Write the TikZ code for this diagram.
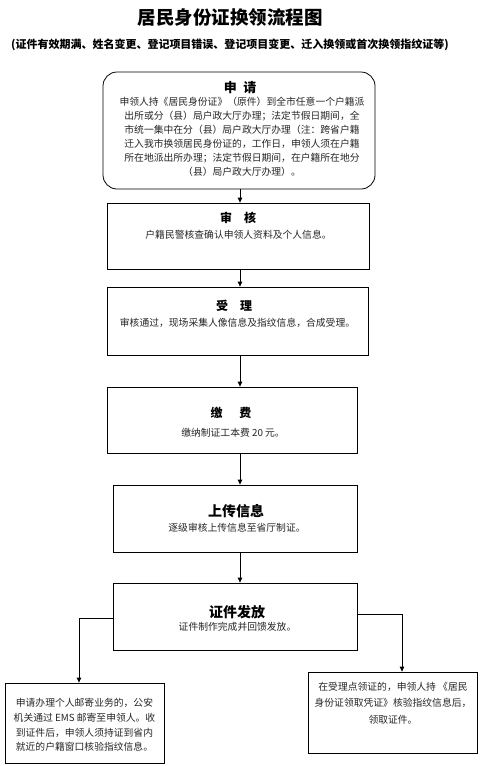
\documentclass[tikz,border=0pt]{standalone}
\usepackage{fontspec}
\setmainfont{Noto Sans CJK SC}
\usetikzlibrary{arrows.meta}
\begin{document}
\begin{tikzpicture}[x=1pt,y=-1pt,
  box/.style={draw,line width=0.8pt,inner sep=0pt},
  arr/.style={draw,line width=0.8pt,-{Triangle[length=5pt,width=4.5pt]}},
  ttl/.style={font=\bfseries\fontsize{13}{15}\selectfont,inner sep=0pt},
  body/.style={font=\fontsize{9.8}{14}\selectfont,inner sep=0pt,align=center,text=black!85}]
\useasboundingbox[fill=white] (0,0) rectangle (486,766);
% titles
\node[inner sep=0pt,font=\bfseries\fontsize{18.5}{20}\selectfont] (title) at (230,18) {居民身份证换领流程图};
\node[inner sep=0pt,font=\bfseries\fontsize{11}{13}\selectfont] (sub) at (230,45) {(证件有效期满、姓名变更、登记项目错误、登记项目变更、迁入换领或首次换领指纹证等)};
% boxes
\node[box,rounded corners=14pt,minimum width=272pt,minimum height=117pt] (b1) at (239,130.5) {};
\node[box,minimum width=262pt,minimum height=66pt] (b2) at (238,236) {};
\node[box,minimum width=261pt,minimum height=68pt] (b3) at (237.5,321) {};
\node[box,minimum width=250pt,minimum height=66pt] (b4) at (232,420) {};
\node[box,minimum width=244pt,minimum height=67pt] (b5) at (235,518.5) {};
\node[box,minimum width=244pt,minimum height=67pt] (b6) at (235,616.5) {};
\node[box,minimum width=159pt,minimum height=80pt] (lb) at (84.5,723) {};
\node[box,minimum width=169pt,minimum height=81pt] (rb) at (392.5,712.5) {};
% box texts
\node[ttl] (t1) at (240,88) {申\hspace{0.5em}请};
\node[body] (x1) at (242,137) {申领人持《居民身份证》（原件）到全市任意一个户籍派\\出所或分（县）局户政大厅办理；法定节假日期间，全\\市统一集中在分（县）局户政大厅办理（注：跨省户籍\\迁入我市换领居民身份证的，工作日，申领人须在户籍\\所在地派出所办理；法定节假日期间，在户籍所在地分\\（县）局户政大厅办理）。};
\node[ttl,font=\bfseries\fontsize{12}{14}\selectfont] (t2) at (238,218) {审\hspace{1em}核};
\node[body] (x2) at (238.5,235) {户籍民警核查确认申领人资料及个人信息。};
\node[ttl,font=\bfseries\fontsize{12}{14}\selectfont] (t3) at (234,306) {受\hspace{1em}理};
\node[body] (x3) at (237.5,323) {审核通过，现场采集人像信息及指纹信息，合成受理。};
\node[ttl,font=\bfseries\fontsize{12}{14}\selectfont] (t4) at (231,413) {缴\hspace{1.4em}费};
\node[body] (x4) at (233,433) {缴纳制证工本费 20 元。};
\node[ttl,font=\bfseries\fontsize{14}{16}\selectfont] (t5) at (236,511) {上传信息};
\node[body] (x5) at (237,528) {逐级审核上传信息至省厅制证。};
\node[ttl,font=\bfseries\fontsize{14}{16}\selectfont] (t6) at (237,612) {证件发放};
\node[body] (x6) at (237.5,627) {证件制作完成并回馈发放。};
\node[body,font=\fontsize{9.8}{14.7}\selectfont] (lx) at (84.5,725) {申请办理个人邮寄业务的，公安\\机关通过 EMS 邮寄至申领人。收\\到证件后，申领人须持证到省内\\就近的户籍窗口核验指纹信息。};
\node[body,font=\fontsize{9.8}{16.5}\selectfont] (rx) at (393,703) {在受理点领证的，申领人持 《居民\\身份证领取凭证》核验指纹信息后，\\领取证件。};
% connectors
\coordinate (ax) at (240,0);
\coordinate (lc) at (79,0);
\coordinate (rc) at (402,0);
\draw[arr] (b1.south -| ax) -- (b2.north -| ax);
\draw[arr] (b2.south -| ax) -- (b3.north -| ax);
\draw[arr] (b3.south -| ax) -- (b4.north -| ax);
\draw[arr] (b4.south -| ax) -- (b5.north -| ax);
\draw[arr] (b5.south -| ax) -- (b6.north -| ax);
\draw[arr] ([yshift=-1.5pt]b6.west) -| (lc |- lb.north);
\draw[arr] ([yshift=2.5pt]b6.east) -| (rc |- rb.north);
\end{tikzpicture}
\end{document}
